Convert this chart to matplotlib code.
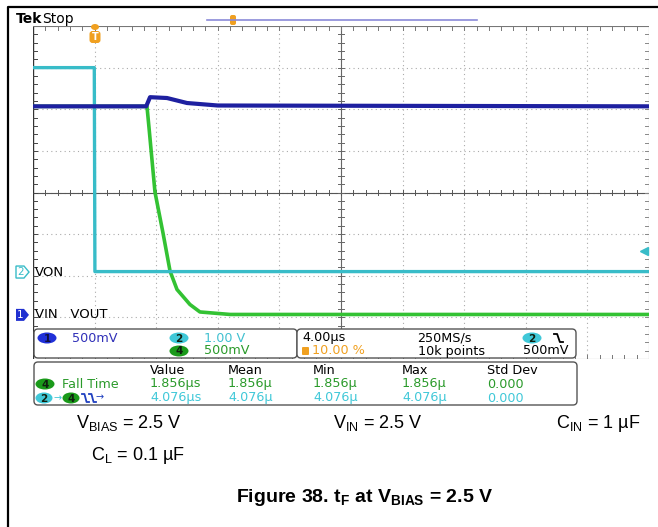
import matplotlib
matplotlib.use('Agg')
import matplotlib.pyplot as plt
import matplotlib.transforms as mtransforms
from matplotlib import font_manager
from matplotlib.patches import FancyBboxPatch, Ellipse, Polygon

W, H = 658, 527

# scope settings: 4 us/div, trigger at 10 % of the record
t_min, t_max = -4.0, 36.0
ch1_scale, ch1_pos = 0.5, -2.93     # VIN  (V/div, div)
ch2_scale, ch2_pos = 1.0, -1.90     # VON
ch4_scale, ch4_pos = 0.5, -2.93     # VOUT
trig_level = 0.5

# traces (time in us, volts)
von_t = [-4.0, -0.02, 0.02, 36.0]
von_v = [4.90, 4.90, 0.0, 0.0]
vin_t = [-4.0, 3.35, 3.6, 4.7, 6.0, 8.0, 36.0]
vin_v = [2.50, 2.50, 2.61, 2.60, 2.54, 2.51, 2.50]
vout_t = [-4.0, 3.40, 3.53, 3.92, 4.44, 4.90, 5.35, 6.19, 6.84, 8.8, 36.0]
vout_v = [2.50, 2.50, 2.25, 1.47, 0.98, 0.52, 0.30, 0.12, 0.03, 0.0, 0.0]

# measurement readout
meas_cols = ['Value', 'Mean', 'Min', 'Max', 'Std Dev']
fall_row = ['1.856µs', '1.856µ', '1.856µ', '1.856µ', '0.000']
delay_row = ['4.076µs', '4.076µ', '4.076µ', '4.076µ', '0.000']
col_x = [150, 228, 313, 402, 487]

BLUE = '#1e20a0'
CYAN = '#38bcc8'
GREEN = '#33c233'
DGREEN = '#2a9a2a'
ORANGE = '#f0a020'
PS = 9.2   # readout font size

names = {f.name for f in font_manager.fontManager.ttflist}
CAPFONT = 'Liberation Sans Narrow' if 'Liberation Sans Narrow' in names else 'Liberation Sans'
narrow = CAPFONT.endswith('Narrow')

plt.rcParams['mathtext.fontset'] = 'custom'
plt.rcParams['mathtext.rm'] = CAPFONT
plt.rcParams['mathtext.bf'] = CAPFONT + ':bold'

fig = plt.figure(figsize=(W / 100, H / 100), dpi=100)
px = mtransforms.Affine2D().scale(1, -1).translate(0, H)

# outer frame (cut at right and bottom)
fig.add_artist(plt.Line2D([7.5, 7.5, W], [H, 6.5, 6.5], transform=px, color='black', lw=1.6))

# graticule
ax = fig.add_axes([33 / W, 1 - 359 / H, 616 / W, 333 / H])
ax.set_xlim(t_min, t_max)
ax.set_ylim(-4, 4)
ax.axis('off')
for i in range(1, 10):
    ax.axvline(t_min + 4 * i, color='#aaaaaa', lw=0.8, ls=(0, (1, 3)), zorder=1)
for j in range(-3, 4):
    ax.axhline(j, color='#aaaaaa', lw=0.8, ls=(0, (1, 3)), zorder=1)
ax.axhline(0, color='#555555', lw=0.8, zorder=1)
ax.axvline(16, color='#666666', lw=0.8, zorder=1)
ax.plot([t_min, t_min], [-4, 4], color='#333333', lw=1.0, zorder=1)
ax.plot([t_max, t_max], [-4, 4], color='#888888', lw=0.8, zorder=1)
ax.plot([t_min, t_max], [4, 4], color='#777777', lw=0.8, zorder=1)
ax.plot([t_min, t_max], [-4, -4], color='#777777', lw=0.8, zorder=1)
for k in range(1, 50):
    x = t_min + 0.8 * k
    ax.plot([x, x], [-0.07, 0.07], color='#555555', lw=0.7, zorder=1)
    ax.plot([x, x], [3.9, 4.0], color='#777777', lw=0.7, zorder=1)
    ax.plot([x, x], [-4.0, -3.9], color='#777777', lw=0.7, zorder=1)
for k in range(1, 40):
    y = -4 + 0.2 * k
    ax.plot([15.8, 16.2], [y, y], color='#666666', lw=0.7, zorder=1)
    ax.plot([t_min, t_min + 0.25], [y, y], color='#444444', lw=0.7, zorder=1)
    ax.plot([t_max - 0.25, t_max], [y, y], color='#888888', lw=0.7, zorder=1)

# traces
ax.plot(vout_t, [ch4_pos + v / ch4_scale for v in vout_v], color=GREEN, lw=2.6, zorder=3)
ax.plot(von_t, [ch2_pos + v / ch2_scale for v in von_v], color=CYAN, lw=2.4, zorder=4)
ax.plot(vin_t, [ch1_pos + v / ch1_scale for v in vin_v], color=BLUE, lw=3.0, zorder=5)

# trigger level marker on the right
ax.plot([t_max - 0.35], [ch2_pos + trig_level / ch2_scale], marker='<', ms=6,
        color=CYAN, clip_on=False, zorder=6)

def txt(x, y, s, color='black', size=PS, **kw):
    kw.setdefault('family', 'DejaVu Sans')
    kw.setdefault('zorder', 10)
    fig.text(x, y, s, transform=px, color=color, fontsize=size, va='center', **kw)

def badge(x, y, s, face, tcolor='#102010', w=19, h=11):
    fig.add_artist(Ellipse((x, y), w, h, transform=px, facecolor=face, edgecolor='none',
                           zorder=8))
    txt(x, y + 0.5, s, tcolor, size=7.5, ha='center', weight='bold')

def slope(x, y, color, w=9):
    # falling-edge icon
    fig.add_artist(plt.Line2D([x, x + w * 0.35, x + w * 0.65, x + w],
                              [y - 4, y - 4, y + 4, y + 4], transform=px, color=color,
                              lw=1.3, zorder=10))

# header
txt(16, 19, 'Tek', size=10, weight='bold')
txt(42, 19, 'Stop', size=10)
fig.add_artist(plt.Line2D([207, 477], [20, 20], transform=px, color='#8a8ad8', lw=1.2))
fig.add_artist(FancyBboxPatch((230, 15), 6, 10, boxstyle='round,pad=0,rounding_size=2',
                              transform=px, facecolor=ORANGE, edgecolor='none'))
# trigger position marker
fig.add_artist(Ellipse((95, 27), 8, 6, transform=px, facecolor=ORANGE, edgecolor='none'))
fig.add_artist(FancyBboxPatch((89.5, 31), 11, 12, boxstyle='round,pad=0,rounding_size=3',
                              transform=px, facecolor=ORANGE, edgecolor='none'))
txt(95, 37.5, 'T', 'white', size=7, ha='center', weight='bold')

# channel ground markers
y2 = 193 - ch2_pos * 41.6
y1 = 193 - ch1_pos * 41.6
fig.add_artist(Polygon([(16, y2 - 6), (24, y2 - 6), (29, y2), (24, y2 + 6), (16, y2 + 6)],
                       transform=px, facecolor='white', edgecolor=CYAN, lw=1))
txt(20.5, y2, '2', CYAN, size=7.5, ha='center')
txt(35, y2, 'VON', size=9.5)
fig.add_artist(Polygon([(16, y1 - 6), (24, y1 - 6), (29, y1), (24, y1 + 6), (16, y1 + 6)],
                       transform=px, facecolor='#2030d0', edgecolor='none'))
txt(20.5, y1, '1', 'white', size=7.5, ha='center')
txt(35, y1, 'VIN   VOUT', size=9.5)

# readout panels
for x0, y0, x1, y1_ in [(34, 329, 297, 358), (297, 329, 576, 358), (34, 362, 577, 405)]:
    fig.add_artist(FancyBboxPatch((x0, y0), x1 - x0, y1_ - y0,
                                  boxstyle='round,pad=0,rounding_size=4', transform=px,
                                  facecolor='white', edgecolor='#555555', lw=1.0, zorder=5))

badge(47, 338, '1', '#2030d8', '#101040')
txt(72, 338, '500mV', '#3030b8')
badge(179, 338, '2', '#40c8d8')
txt(204, 338, '1.00 V', '#40c0d0')
badge(179, 351, '4', '#1a9a1a')
txt(204, 351, '500mV', DGREEN)

txt(302, 338, '4.00µs')
fig.add_artist(FancyBboxPatch((302, 347), 7, 8, boxstyle='round,pad=0,rounding_size=1',
                              transform=px, facecolor=ORANGE, edgecolor='none', zorder=8))
txt(312, 351, '10.00 %', ORANGE)
txt(417, 338, '250MS/s')
txt(418, 351, '10k points')
badge(532, 338, '2', '#40c8d8')
slope(554, 338, 'black')
txt(523, 351, '500mV')

for x, s in zip(col_x, meas_cols):
    txt(x, 370, s)
badge(45, 384, '4', '#1a9a1a')
txt(62, 384, 'Fall Time', DGREEN)
for x, s in zip(col_x, fall_row):
    txt(x, 384, s, DGREEN)
badge(44, 398, '2', '#40c8d8', w=17)
txt(54, 398, '→', '#40c8d8', size=7)
badge(71, 398, '4', '#1a9a1a', w=17)
slope(82, 398, '#2040c0', w=7)
slope(89, 398, '#2040c0', w=7)
txt(96, 397.5, '→', '#2040c0', size=7)
for x, s in zip(col_x, delay_row):
    txt(x, 398, s, '#40c8d8')

# conditions and caption
cs = 14.5 if narrow else 13
cap = dict(family=CAPFONT, size=cs)
txt(76, 423, r'V$_\mathregular{BIAS}$ = 2.5 V', **cap)
txt(333, 423, r'V$_\mathregular{IN}$ = 2.5 V', **cap)
txt(556, 423, r'C$_\mathregular{IN}$ = 1 µF', **cap)
txt(91, 456, r'C$_\mathregular{L}$ = 0.1 µF', **cap)
txt(365, 497, r'Figure 38. t$_\mathbf{F}$ at V$_\mathbf{BIAS}$ = 2.5 V', ha='center',
    family=CAPFONT, size=16 if narrow else 14, weight='bold')

fig.savefig('out.png', dpi=100)
